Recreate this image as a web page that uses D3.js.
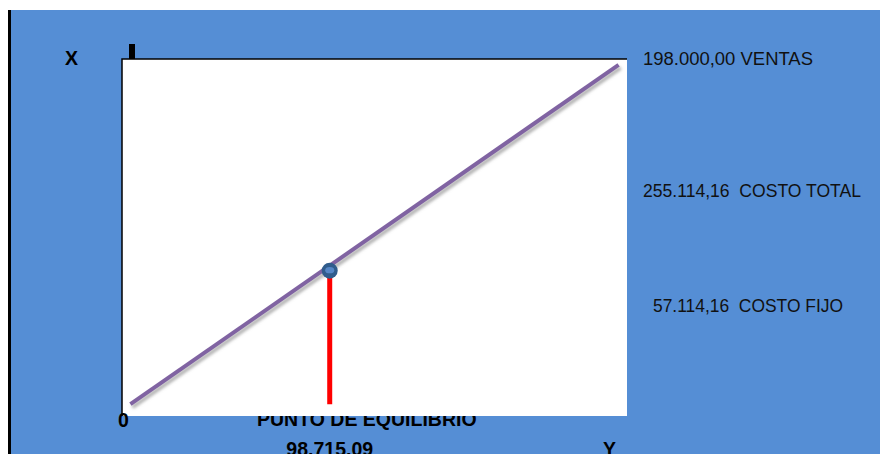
<!DOCTYPE html>
<html>
<head>
<meta charset="utf-8">
<script src="https://cdn.jsdelivr.net/npm/d3@7"></script>
<style>
  html, body { margin: 0; padding: 0; background: #ffffff; }
  svg { display: block; }
  text { white-space: pre; }
</style>
</head>
<body>
<svg id="chart" width="880" height="454"></svg>
<script>
// Break-even chart data
const axisDomain = [0, 240000];
const salesLineX = [4000, 236000];
const salesLineY = [4000, 236000];
const breakEven = 98715.09;
const breakEvenLabel = "98.715,09";
const sideValues = ["198.000,00", "255.114,16", "57.114,16"];
const sideNames = ["VENTAS", "COSTO TOTAL", "COSTO FIJO"];
const sideSeparators = [" ", "  ", "  "];
const axisLabels = { x: "X", y: "Y", origin: "0", title: "PUNTO DE EQUILIBRIO" };

const svg = d3.select("#chart");
const W = 880, H = 454;
const plot = { left: 122, top: 59, right: 627, bottom: 416 };

const x = d3.scaleLinear().domain(axisDomain).range([plot.left, plot.right]);
const y = d3.scaleLinear().domain(axisDomain).range([410, plot.top]);

// drop shadow for the sales line
const defs = svg.append("defs");
const f = defs.append("filter").attr("id", "shadow")
  .attr("x", "-10%").attr("y", "-10%").attr("width", "120%").attr("height", "130%");
f.append("feDropShadow").attr("dx", 2).attr("dy", 3).attr("stdDeviation", 1.4)
  .attr("flood-color", "#808080").attr("flood-opacity", 0.6);

// background panel
svg.append("rect").attr("x", 10).attr("y", 10).attr("width", W - 10).attr("height", H - 10)
  .attr("fill", "#558ED5");
svg.append("line").attr("x1", 9.5).attr("x2", 9.5).attr("y1", 10).attr("y2", H)
  .attr("stroke", "#000").attr("stroke-width", 3);

const font = "'Liberation Sans', Arial, sans-serif";

// bottom title (partly covered by the plot area)
svg.append("text").attr("x", 257).attr("y", 426)
  .attr("font-family", font).attr("font-weight", "bold").attr("font-size", 19.5)
  .attr("fill", "#000").text(axisLabels.title);

// plot area
svg.append("rect").attr("x", plot.left).attr("y", plot.top)
  .attr("width", plot.right - plot.left).attr("height", plot.bottom - plot.top)
  .attr("fill", "#ffffff");
svg.append("path")
  .attr("d", `M${plot.left},${plot.bottom}V${plot.top}H${plot.right}`)
  .attr("fill", "none").attr("stroke", "#000").attr("stroke-width", 1.5);

// small black marker above the top-left corner
svg.append("rect").attr("x", 129).attr("y", 44).attr("width", 6).attr("height", 15).attr("fill", "#000");

// sales line
const pts = salesLineX.map((v, i) => [x(v), y(salesLineY[i])]);
svg.append("path").attr("d", d3.line()(pts))
  .attr("stroke", "#8064A2").attr("stroke-width", 4).attr("fill", "none")
  .attr("filter", "url(#shadow)");

// drop line from the break-even point
svg.append("line").attr("x1", x(breakEven)).attr("x2", x(breakEven))
  .attr("y1", y(breakEven)).attr("y2", y(salesLineY[0]))
  .attr("stroke", "#FF0000").attr("stroke-width", 5);

// break-even marker
const bx = x(breakEven), by = y(breakEven) + 5;
svg.append("circle").attr("cx", bx).attr("cy", by).attr("r", 8).attr("fill", "#305C8C");
svg.append("ellipse").attr("cx", bx).attr("cy", by - 0.5).attr("rx", 4.5).attr("ry", 3.2).attr("fill", "#5586C6");

// axis letters
const boldText = (tx, ty, s, anchor) => svg.append("text").attr("x", tx).attr("y", ty)
  .attr("text-anchor", anchor || "start")
  .attr("font-family", font).attr("font-weight", "bold").attr("font-size", 19.5)
  .attr("fill", "#000").text(s);
boldText(65, 65, axisLabels.x);
boldText(118, 427, axisLabels.origin);
boldText(603, 455.5, axisLabels.y);
boldText(bx, 455.5, breakEvenLabel, "middle");

// side annotations
const sideX = [643, 643, 653];
const sideY = [65, 197, 312];
const sideW = [170, 218, 190];
svg.selectAll("text.side").data(sideValues).enter().append("text")
  .attr("class", "side")
  .attr("x", (d, i) => sideX[i]).attr("y", (d, i) => sideY[i])
  .attr("font-family", font).attr("font-size", 18)
  .attr("textLength", (d, i) => sideW[i]).attr("lengthAdjust", "spacingAndGlyphs")
  .attr("fill", "#111")
  .text((d, i) => d + sideSeparators[i] + sideNames[i]);
</script>
</body>
</html>
